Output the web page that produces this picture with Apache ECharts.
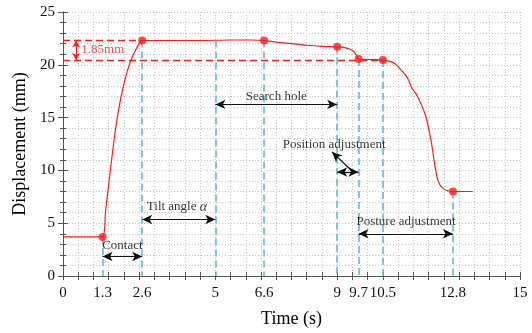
<!DOCTYPE html>
<html>
<head>
<meta charset="utf-8">
<script src="https://cdn.jsdelivr.net/npm/echarts@6/dist/echarts.min.js"></script>
<style>
  html, body { margin: 0; padding: 0; background: #fff; }
  #chart { width: 532px; height: 333px; }
</style>
</head>
<body>
<div id="chart"></div>
<script>
// displacement curve
var timeVals = [0, 0.5, 1.0, 1.3, 1.4, 1.5, 1.6, 1.7, 1.8, 1.9, 2.0, 2.1, 2.2, 2.3, 2.4, 2.5, 2.6,
  3.5, 4.5, 5.5, 6.2, 6.6, 7.0, 7.5, 8.0, 8.5, 9.0, 9.2, 9.4, 9.55, 9.65, 9.7,
  10.1, 10.5, 10.7, 10.9, 11.1, 11.3, 11.45, 11.6, 11.75, 11.9, 12.0, 12.1, 12.2, 12.3, 12.4, 12.5, 12.6, 12.8, 13.1, 13.45];
var dispVals = [3.7, 3.7, 3.7, 3.7, 6.2, 8.7, 11.1, 13.4, 15.3, 16.9, 18.2, 19.3, 20.2, 20.9, 21.5, 22.0, 22.3,
  22.3, 22.3, 22.35, 22.35, 22.3, 22.15, 22.0, 21.85, 21.75, 21.7, 21.65, 21.5, 21.25, 20.8, 20.55,
  20.5, 20.45, 20.35, 20.1, 19.5, 18.8, 17.8, 17.2, 16.3, 15.2, 14.0, 12.5, 10.6, 9.1, 8.5, 8.25, 8.1, 8.0, 8.0, 8.0];

// marked stage points
var keyTimes = [1.3, 2.6, 6.6, 9.0, 9.7, 10.5, 12.8];
var keyDisp = [3.7, 22.3, 22.3, 21.7, 20.55, 20.45, 8.0];

// stage boundaries (cyan dashed lines) and their top ends
var stageTimes = [1.3, 2.6, 5, 6.6, 9, 9.7, 10.5, 12.8];
var stageTops = [3.7, 22.3, 22.3, 22.3, 21.7, 20.55, 20.45, 8.0];

// x tick labels
var xTickLabels = [0, 1.3, 2.6, 5, 6.6, 9, 9.7, 10.5, 12.8, 15];

// annotations: [x1, y1, x2, y2]
var doubleArrows = [
  [1.3, 1.85, 2.6, 1.85],
  [2.6, 5.35, 5, 5.35],
  [5, 16.25, 9, 16.25],
  [9, 9.85, 9.7, 9.85],
  [9.7, 4.0, 12.8, 4.0]
];
var singleArrows = [[9.52, 9.85, 8.83, 11.75]];
var noteTexts = ['Contact', 'Tilt angle {a|α}', 'Search hole', 'Position adjustment', 'Posture adjustment'];
var notePos = [[1.95, 2.85], [3.74, 6.55], [7.0, 16.95], [8.9, 12.45], [11.26, 5.15]];

var serif = 'Liberation Serif';
var red = '#ff1a1a';
var cyan = '#5fbcd3';

var curveData = timeVals.map(function (t, i) { return [t, dispVals[i]]; });
var keyData = keyTimes.map(function (t, i) { return [t, keyDisp[i]]; });

var stageLines = stageTimes.map(function (t, i) {
  return [{ coord: [t, stageTops[i]] }, { coord: [t, 0] }];
});
var arrowLines = doubleArrows.map(function (a) {
  return [{ coord: [a[0], a[1]] }, { coord: [a[2], a[3]] }];
});
var oneArrowLines = singleArrows.map(function (a) {
  return [{ coord: [a[0], a[1]] }, { coord: [a[2], a[3]] }];
});
var noteData = noteTexts.map(function (s, i) {
  return { value: notePos[i], label: { formatter: s } };
});

var myChart = echarts.init(document.getElementById('chart'));

var gridDotted = { show: true, lineStyle: { color: '#c8c8c8', type: [1, 2], width: 1 } };
var axisLine = { show: true, lineStyle: { color: '#555', width: 1 } };

var option = {
  backgroundColor: '#fff',
  animation: false,
  grid: { left: 63, right: 12, top: 12, bottom: 55 },
  xAxis: [{
    type: 'value', min: 0, max: 15, interval: 0.5,
    name: 'Time (s)', nameLocation: 'middle', nameGap: 34,
    nameTextStyle: { fontFamily: serif, fontSize: 18, color: '#000' },
    axisLine: axisLine,
    axisTick: { inside: true, length: 4, lineStyle: { color: '#555' } },
    axisLabel: { customValues: xTickLabels, fontFamily: serif, fontSize: 15, color: '#111', margin: 10 },
    splitLine: gridDotted
  }, {
    type: 'value', min: 0, max: 15, interval: 0.5, position: 'top',
    axisLine: axisLine,
    axisTick: { inside: true, length: 4, lineStyle: { color: '#555' } },
    axisLabel: { show: false },
    splitLine: { show: false }
  }],
  yAxis: [{
    type: 'value', min: 0, max: 25, interval: 5,
    name: 'Displacement (mm)', nameLocation: 'middle', nameGap: 33,
    nameTextStyle: { fontFamily: serif, fontSize: 18, color: '#000' },
    axisLine: axisLine,
    axisTick: { inside: true, length: 5, lineStyle: { color: '#555' } },
    minorTick: { show: true, splitNumber: 5, length: 3, lineStyle: { color: '#555' } },
    axisLabel: { fontFamily: serif, fontSize: 15, color: '#111', margin: 8 },
    splitLine: gridDotted,
    minorSplitLine: gridDotted
  }, {
    type: 'value', min: 0, max: 25, interval: 5, position: 'right',
    axisLine: axisLine,
    axisTick: { inside: true, length: 5, lineStyle: { color: '#555' } },
    minorTick: { show: true, splitNumber: 5, length: 3, lineStyle: { color: '#555' } },
    axisLabel: { show: false },
    splitLine: { show: false }
  }],
  series: [{
    // cyan stage lines + red level lines
    type: 'line', data: [], silent: true,
    markLine: {
      silent: true, symbol: ['none', 'none'], label: { show: false },
      lineStyle: { color: cyan, type: [7, 4], width: 1.6 },
      data: stageLines.concat([
        [{ coord: [0, keyDisp[1]], lineStyle: { color: red, type: [7, 4], width: 1.3 } }, { coord: [keyTimes[1], keyDisp[1]] }],
        [{ coord: [0, keyDisp[5]], lineStyle: { color: red, type: [7, 4], width: 1.3 } }, { coord: [keyTimes[5], keyDisp[5]] }]
      ])
    }
  }, {
    type: 'line', data: curveData, smooth: 0.3, showSymbol: false,
    lineStyle: { color: red, width: 1.2 }, z: 5
  }, {
    type: 'scatter', data: keyData, symbolSize: 8,
    itemStyle: { color: red }, z: 6
  }, {
    // black arrows
    type: 'line', data: [], silent: true,
    markLine: {
      silent: true, symbol: ['arrow', 'arrow'], symbolSize: [7, 10], label: { show: false },
      lineStyle: { color: '#111', type: 'solid', width: 1.2 },
      data: arrowLines
    }
  }, {
    type: 'line', data: [], silent: true,
    markLine: {
      silent: true, symbol: ['none', 'arrow'], symbolSize: [7, 10], label: { show: false },
      lineStyle: { color: '#111', type: 'solid', width: 1.2 },
      data: oneArrowLines
    }
  }, {
    // 1.85 mm gap marker
    type: 'line', data: [], silent: true,
    markLine: {
      silent: true, symbol: ['arrow', 'arrow'], symbolSize: [6, 7],
      lineStyle: { color: red, type: 'solid', width: 1 },
      label: { show: false },
      data: [[{ coord: [0.43, keyDisp[1]] }, { coord: [0.43, keyDisp[5]] }]]
    }
  }, {
    type: 'scatter', symbolSize: 0, silent: true, z: 7,
    data: [{ value: [0.6, 21.4], label: { formatter: '1.85mm', color: red, align: 'left' } }],
    label: { show: true, position: 'inside', fontFamily: serif, fontSize: 13 }
  }, {
    type: 'scatter', symbolSize: 0, silent: true, z: 7,
    data: noteData,
    label: {
      show: true, position: 'inside', fontFamily: serif, fontSize: 13, color: '#000',
      rich: { a: { fontFamily: serif, fontStyle: 'italic', fontSize: 14, color: '#000' } }
    }
  }]
};

myChart.setOption(option);
</script>
</body>
</html>
